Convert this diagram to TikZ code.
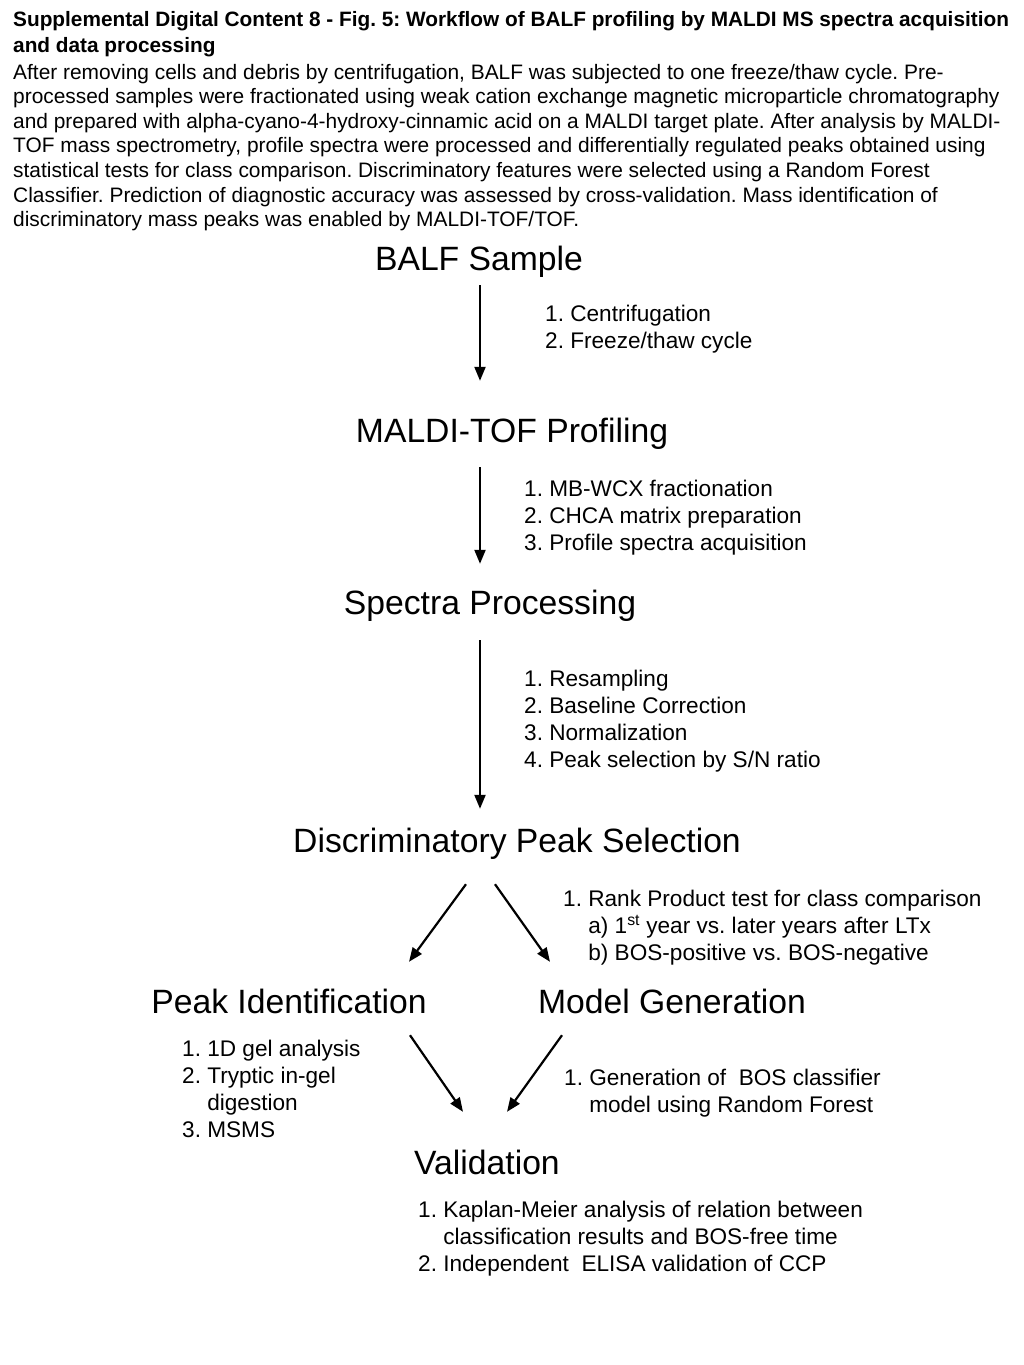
\documentclass[tikz,border=0pt]{standalone}
\usepackage{fontspec}
\setmainfont{Liberation Sans}
\usetikzlibrary{arrows.meta}
\frenchspacing
\begin{document}
\begin{tikzpicture}[x=1pt,y=-1pt,>={Triangle[length=14pt,width=11pt]},
  head/.style={font=\fontsize{33.7}{40}\selectfont, inner sep=0pt, anchor=base, text height=25pt, text depth=7pt},
  steps/.style={font=\fontsize{22.6}{27.3}\selectfont, inner sep=0pt, anchor=base west, align=left},
  flow/.style={->, line width=2.2pt}]
  \useasboundingbox (0,0) rectangle (1024,1365);
%%
  % Caption (multi-line nodes sit on their last baseline)
  \node (title) [anchor=base west, inner sep=0pt, align=left, font=\bfseries\fontsize{20.8}{25}\selectfont] at (13,52)
    {Supplemental Digital Content 8 - Fig. 5: Workflow of BALF profiling by MALDI MS spectra acquisition\\
     and data processing};
  \node (legend) [anchor=base west, inner sep=0pt, align=left, font=\fontsize{20.9}{24.6}\selectfont] at (13,226.6)
    {After removing cells and debris by centrifugation, BALF was subjected to one freeze/thaw cycle. Pre-\\
     processed samples were fractionated using weak cation exchange magnetic microparticle chromatography\\
     and prepared with alpha-cyano-4-hydroxy-cinnamic acid on a MALDI target plate. After analysis by MALDI-\\
     TOF mass spectrometry, profile spectra were processed and differentially regulated peaks obtained using\\
     statistical tests for class comparison. Discriminatory features were selected using a Random Forest\\
     Classifier. Prediction of diagnostic accuracy was assessed by cross-validation. Mass identification of\\
     discriminatory mass peaks was enabled by MALDI-TOF/TOF.};
  % Stages
  \node (balf) [head] at (479,270) {BALF Sample};
  \node (maldi) [head] at (512,442) {MALDI-TOF Profiling};
  \node (spectra) [head] at (490,614) {Spectra Processing};
  \node (disc) [head] at (517,852) {Discriminatory Peak Selection};
  \node (peakid) [head] at (289,1013) {Peak Identification};
  \node (model) [head] at (672,1013) {Model Generation};
  \node (valid) [head] at (487,1174) {Validation};
  % Steps
  \node (balfsteps) [steps] at (545,348.3) {1. Centrifugation\\2. Freeze/thaw cycle};
  \node (maldisteps) [steps] at (524,550.6) {1. MB-WCX fractionation\\2. CHCA matrix preparation\\3. Profile spectra acquisition};
  \node (spectrasteps) [steps] at (524,767.9) {1. Resampling\\2. Baseline Correction\\3. Normalization\\4. Peak selection by S/N ratio};
  \node (discsteps) [steps] at (563,960.6) {1. Rank Product test for class comparison\\
    \phantom{1. }a) 1\textsuperscript{st} year vs. later years after LTx\\
    \phantom{1. }b) BOS-positive vs. BOS-negative};
  \node (peakidsteps) [steps] at (182,1137.9) {1. 1D gel analysis\\2. Tryptic in-gel\\\phantom{2. }digestion\\3. MSMS};
  \node (modelsteps) [steps] at (564,1112.3) {1. Generation of\ \ BOS classifier\\\phantom{1. }model using Random Forest};
  \node (validsteps) [steps] at (418,1271.6) {1. Kaplan-Meier analysis of relation between\\
    \phantom{1. }classification results and BOS-free time\\
    2. Independent\ \ ELISA validation of CCP};
  % Flow
  \coordinate (axis) at (480,0);
  \draw [flow, shorten <=8pt, shorten >=36pt] (axis |- balf.south) -- (axis |- maldi.north);
  \draw [flow, shorten <=18pt, shorten >=25pt] (axis |- maldi.south) -- (axis |- spectra.north);
  \draw [flow, shorten <=19pt, shorten >=18pt] (axis |- spectra.south) -- (axis |- disc.north);
  \draw [flow] ([shift={(-51,25)}]disc.south) -- ([shift={(120,-26)}]peakid.north);
  \draw [flow] ([shift={(-22,25)}]disc.south) -- ([shift={(-122,-26)}]model.north);
  \draw [flow] ([shift={(121,15)}]peakid.south) -- ([shift={(-24,-37)}]valid.north);
  \draw [flow] ([shift={(-110,15)}]model.south) -- ([shift={(20,-37)}]valid.north);
%
\end{tikzpicture}
\end{document}
